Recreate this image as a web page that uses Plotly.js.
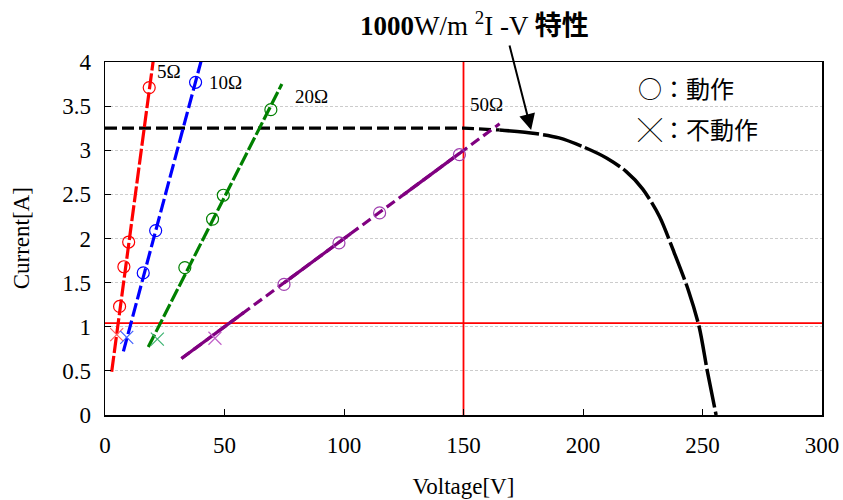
<!DOCTYPE html>
<html>
<head>
<meta charset="utf-8">
<script src="https://cdn.plot.ly/plotly-3.0.1.min.js"></script>
<style>html,body{margin:0;padding:0;background:#fff;}#chart{width:843px;height:500px;}</style>
</head>
<body>
<div id="chart"></div>
<script>
// I-V characteristic at 1000 W/m2
const ivV = [0, 150, 165, 180, 190, 200, 210, 218, 225, 232, 238, 244, 248.6, 252, 255.7];
const ivI = [3.25, 3.25, 3.23, 3.19, 3.14, 3.04, 2.91, 2.76, 2.56, 2.25, 1.85, 1.42, 1.00, 0.50, 0];
const ivSplit = 2; // flat part ends at index 2

// load lines (endpoints)
const r5V = [2.8, 20.6];   const r5I = [0.49, 4.1];
const r10V = [7.7, 40.8];  const r10I = [0.72, 4.07];
const r20V = [18.1, 74.0]; const r20I = [0.77, 3.75];
const r50V = [32.0, 165.1]; const r50I = [0.64, 3.30];
// solid portions of the 50 ohm line (voltage ranges)
const r50Solid = [[32.0, 58.0], [74.9, 102.8], [124.8, 148.3]];

// operating points (circles)
const op5V = [18.5, 9.9, 7.9, 6.1];      const op5I = [3.71, 1.96, 1.68, 1.23];
const op10V = [37.9, 21.2, 16.0];        const op10I = [3.77, 2.09, 1.61];
const op20V = [69.4, 49.5, 45.0, 33.4];  const op20I = [3.46, 2.49, 2.22, 1.67];
const op50V = [148.3, 114.9, 97.9, 74.9]; const op50I = [2.95, 2.29, 1.95, 1.48];
// non-operating points (crosses)
const no5V = [4.9], no5I = [0.91];
const no10V = [9.1], no10I = [0.88];
const no20V = [21.9], no20I = [0.86];
const no50V = [46.0], no50I = [0.87];

const hLineI = 1.04;   // red horizontal line
const vLineV = 150;    // red vertical line

const labels = ['5Ω', '10Ω', '20Ω', '50Ω'];
const labelV = [26.8, 50.5, 86.5, 159.5];
const labelI = [3.89, 3.77, 3.61, 3.52];

const serif = 'Liberation Serif, Times New Roman, serif';
const cjk = 'Noto Sans CJK JP, sans-serif';

function interpI(V) { return r50I[0] + (V - r50V[0]) * (r50I[1] - r50I[0]) / (r50V[1] - r50V[0]); }

const traces = [];
// red reference lines
traces.push({x: [0, 300], y: [hLineI, hLineI], mode: 'lines', line: {color: '#ff0000', width: 1.8}, hoverinfo: 'skip'});
traces.push({x: [vLineV, vLineV], y: [0, 4], mode: 'lines', line: {color: '#ff0000', width: 1.8}, hoverinfo: 'skip'});

// IV curve
traces.push({x: ivV.slice(0, ivSplit + 1), y: ivI.slice(0, ivSplit + 1), mode: 'lines',
  line: {color: '#000', width: 3.2, dash: '12px,5px'}});
traces.push({x: ivV.slice(ivSplit), y: ivI.slice(ivSplit), mode: 'lines',
  line: {color: '#000', width: 3.5, dash: '40px,4px', shape: 'spline', smoothing: 0.8}});

// load lines
traces.push({x: r5V, y: r5I, mode: 'lines', line: {color: '#ff0000', width: 3.2, dash: '16px,3px'}});
traces.push({x: r10V, y: r10I, mode: 'lines', line: {color: '#0000ff', width: 3.2, dash: '14px,4px'}});
traces.push({x: r20V, y: r20I, mode: 'lines', line: {color: '#008000', width: 3.2, dash: '14px,3px'}});
traces.push({x: r50V, y: r50I, mode: 'lines', line: {color: '#800080', width: 3.2, dash: '10px,5px'}});
r50Solid.forEach(function (s) {
  traces.push({x: s, y: s.map(interpI), mode: 'lines', line: {color: '#800080', width: 3.2}});
});

function circ(x, y, c) { return {x: x, y: y, mode: 'markers', marker: {symbol: 'circle-open', size: 12, color: c, line: {width: 1.2, color: c}}}; }
function cross(x, y, c) { return {x: x, y: y, mode: 'markers', marker: {symbol: 'x-thin-open', size: 13, color: c, line: {width: 1.2, color: c}}}; }
traces.push(circ(op5V, op5I, '#ff0000'));
traces.push(circ(op10V, op10I, '#0000ff'));
traces.push(circ(op20V, op20I, '#008000'));
traces.push(circ(op50V, op50I, '#a040b0'));
traces.push(cross(no5V, no5I, '#ff6060'));
traces.push(cross(no10V, no10I, '#4060ff'));
traces.push(cross(no20V, no20I, '#3cb371'));
traces.push(cross(no50V, no50I, '#c060c8'));

const annotations = labels.map(function (t, i) {
  return {x: labelV[i], y: labelI[i], text: t, showarrow: false, font: {family: serif, size: 19, color: '#000'}};
});
annotations.push({xref: 'paper', yref: 'paper', x: 0.516, y: 1.108, xanchor: 'center', yanchor: 'middle',
  text: '<b>1000</b>W/m <sup>2</sup>I -V <b>特性</b>',
  showarrow: false, font: {family: serif + ', ' + cjk, size: 27, color: '#000'}});
annotations.push({x: 178.3, y: 3.23, ax: -22, ay: -86, text: '', showarrow: true, arrowhead: 2, arrowsize: 1.6, arrowwidth: 2, arrowcolor: '#000'});
annotations.push({xref: 'paper', yref: 'paper', x: 0.741, y: 0.929, xanchor: 'left', yanchor: 'middle',
  text: '○：動作', showarrow: false, font: {family: cjk, size: 24, color: '#000'}});
annotations.push({xref: 'paper', yref: 'paper', x: 0.741, y: 0.813, xanchor: 'left', yanchor: 'middle',
  text: '╳：不動作', showarrow: false, font: {family: cjk, size: 24, color: '#000'}});
annotations.push({xref: 'paper', yref: 'paper', x: -0.116, y: 0.5, xanchor: 'center', yanchor: 'middle',
  text: 'Current[A]', textangle: -90, showarrow: false, font: {family: serif, size: 23, color: '#000'}});

const layout = {
  width: 843, height: 500,
  margin: {l: 105, r: 21, t: 62, b: 85},
  paper_bgcolor: '#fff', plot_bgcolor: '#fff',
  showlegend: false,
  font: {family: serif, size: 23, color: '#000'},
  xaxis: {range: [0, 300], dtick: 50, showgrid: false, zeroline: false,
    showline: true, linecolor: '#000', linewidth: 1.5, mirror: true,
    ticks: 'inside', ticklen: 6, tickcolor: '#000',
    tickfont: {family: serif, size: 23}, ticklabelstandoff: 9,
    title: {text: 'Voltage[V]', font: {family: serif, size: 23}, standoff: 21}},
  yaxis: {range: [0, 4], dtick: 0.5, showgrid: true, gridcolor: '#cccccc', griddash: '3px,2px', gridwidth: 1,
    zeroline: false, showline: true, linecolor: '#000', linewidth: 1.5, mirror: true,
    ticks: 'inside', ticklen: 6, tickcolor: '#000',
    tickfont: {family: serif, size: 23}, ticklabelstandoff: 8},
  annotations: annotations
};

Plotly.newPlot('chart', traces, layout, {displayModeBar: false, staticPlot: true});
</script>
</body>
</html>
